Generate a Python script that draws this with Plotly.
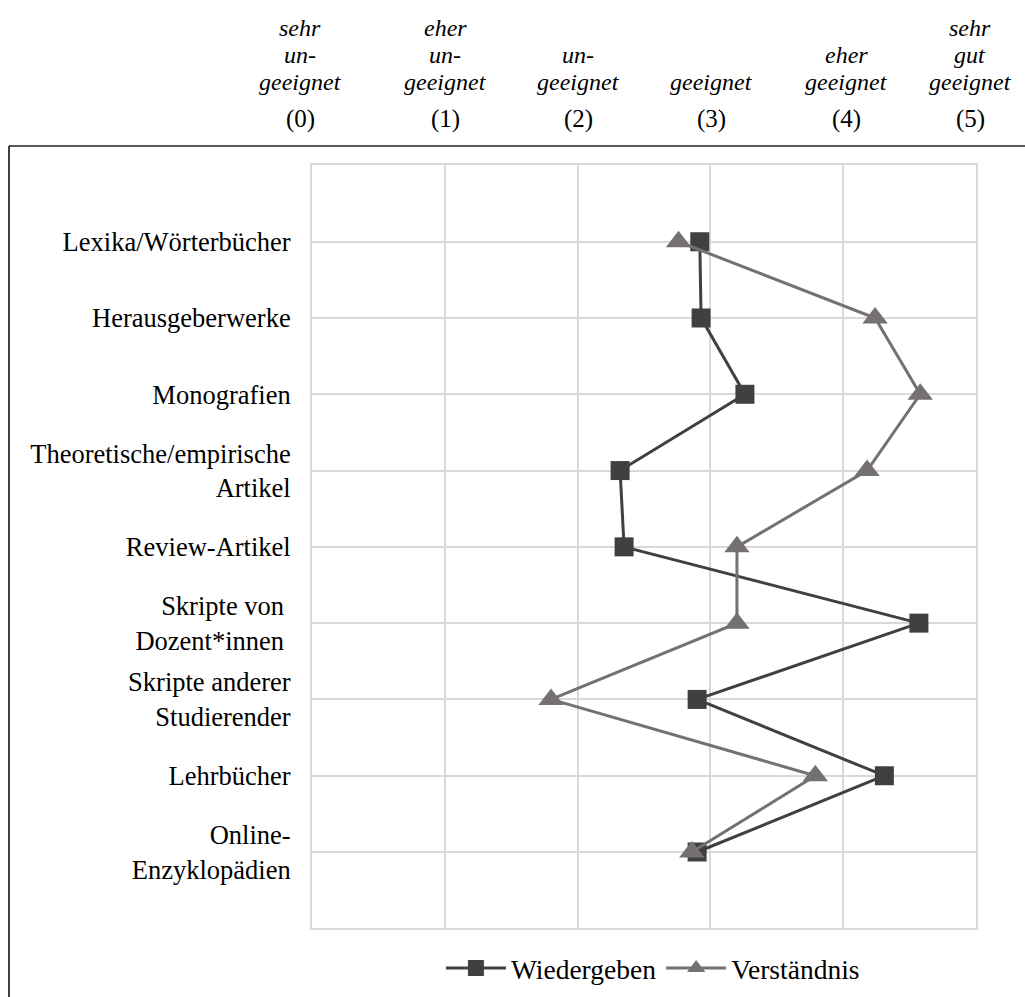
import plotly.graph_objects as go

# Source types (top to bottom) and mean suitability ratings (0-5)
categories = [
    "Lexika/Wörterbücher",
    "Herausgeberwerke",
    "Monografien",
    "Theoretische/empirische<br>Artikel",
    "Review-Artikel",
    "Skripte von\u00a0<br>Dozent*innen\u00a0",
    "Skripte anderer<br>Studierender",
    "Lehrbücher",
    "Online-<br>Enzyklopädien",
]
wiedergeben = [2.92, 2.93, 3.26, 2.32, 2.35, 4.57, 2.90, 4.31, 2.90]
verstaendnis = [2.76, 4.24, 4.58, 4.18, 3.20, 3.20, 1.80, 3.79, 2.86]

# Scale labels shown above the plot (italic words, upright number)
scale_values = [0, 1, 2, 3, 4, 5]
scale_words = [
    ["sehr", "un-", "geeignet"],
    ["eher", "un-", "geeignet"],
    ["un-", "geeignet"],
    ["geeignet"],
    ["eher", "geeignet"],
    ["sehr", "gut", "geeignet"],
]
scale_numbers = ["(0)", "(1)", "(2)", "(3)", "(4)", "(5)"]

W, H = 1025, 997
FONT = "Liberation Serif"
DARK = "#404040"
GRAY = "#767171"
GRID = "#d9d9d9"

ypos = list(range(len(categories)))

fig = go.Figure()
fig.add_trace(go.Scatter(
    x=wiedergeben, y=ypos, name="Wiedergeben", mode="lines+markers",
    line=dict(color=DARK, width=3),
    marker=dict(symbol="square", size=19, color=DARK),
))
fig.add_trace(go.Scatter(
    x=verstaendnis, y=ypos, name="Verständnis", mode="lines+markers",
    line=dict(color=GRAY, width=3),
    marker=dict(symbol="triangle-up", size=22, color=GRAY),
))


def px_x(px):
    return px / W


def px_y(py):
    return 1 - py / H


# Column centres of the scale labels (pixels) and row centres of the lines
label_x = [300, 445, 578, 711, 846, 970]
row_y = [28, 55, 82]
number_y = 119

annotations = []
for i, words in enumerate(scale_words):
    start = len(row_y) - len(words)
    for j, w in enumerate(words):
        annotations.append(dict(
            x=px_x(label_x[i]), y=px_y(row_y[start + j]), xref="paper", yref="paper",
            text=w, showarrow=False, xanchor="center", yanchor="middle",
            font=dict(family=FONT, size=24, color="black", style="italic"),
        ))
    annotations.append(dict(
        x=px_x(label_x[i]), y=px_y(number_y), xref="paper", yref="paper",
        text=scale_numbers[i], showarrow=False, xanchor="center", yanchor="middle",
        font=dict(family=FONT, size=25, color="black"),
    ))

# Outer frame: grey top rule and black left rule
shapes = [
    dict(type="line", xref="paper", yref="paper", x0=px_x(9), x1=1.0,
         y0=px_y(146), y1=px_y(146), line=dict(color="#595959", width=2)),
    dict(type="line", xref="paper", yref="paper", x0=px_x(9), x1=px_x(9),
         y0=px_y(146), y1=0, line=dict(color="black", width=1.5)),
]

fig.update_layout(
    width=W, height=H,
    margin=dict(l=0, r=0, t=0, b=0),
    paper_bgcolor="white", plot_bgcolor="white",
    font=dict(family=FONT, size=26, color="black"),
    showlegend=True,
    legend=dict(
        orientation="h", x=0.637, xanchor="center", y=px_y(968), yanchor="middle",
        font=dict(family=FONT, size=27.5, color="black"),
        itemwidth=60, bgcolor="rgba(0,0,0,0)",
    ),
    xaxis=dict(
        domain=[px_x(312), px_x(976)], range=[0, 5], dtick=1, tick0=0,
        showticklabels=False, ticks="", showgrid=True, gridcolor=GRID, gridwidth=2,
        zeroline=False, showline=True, mirror=True, linecolor=GRID, linewidth=2,
        automargin=False, fixedrange=True,
    ),
    yaxis=dict(
        domain=[px_y(928.3), px_y(165.4)], range=[len(categories), -1],
        tickvals=ypos, ticktext=categories, ticks="", ticklabelstandoff=14,
        tickfont=dict(family=FONT, size=26.5, color="black"),
        showgrid=True, gridcolor=GRID, gridwidth=2, zeroline=False,
        showline=True, mirror=True, linecolor=GRID, linewidth=2,
        automargin=False, fixedrange=True,
    ),
    annotations=annotations,
    shapes=shapes,
)

fig.write_html("out.html")
